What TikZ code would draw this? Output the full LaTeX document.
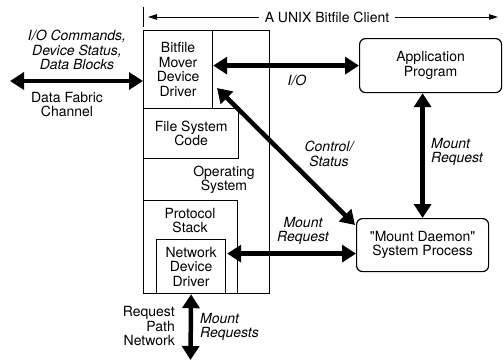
\documentclass[tikz,border=0pt]{standalone}
\usepackage{fontspec}
\setmainfont{TeX Gyre Heros}
\usetikzlibrary{arrows.meta,calc}
\begin{document}
\begin{tikzpicture}[x=1pt,y=-1pt,
  box/.style={draw, line width=1.2pt, inner sep=0pt, align=center},
  rbox/.style={box, rounded corners=6pt},
  lbl/.style={font=\fontsize{14}{14.5}\selectfont, align=center, inner sep=0pt},
  ilbl/.style={font=\fontsize{14}{14.5}\selectfont\itshape, align=center, inner sep=0pt},
  big/.style={line width=4.5pt, {Triangle[length=14pt,width=17pt]}-{Triangle[length=14pt,width=17pt]}},
  thinarrow/.style={line width=1pt, -{Triangle[length=9pt,width=5.5pt]}}
]
\useasboundingbox (0,0) rectangle (504,362);

% boxes
\node[box, minimum width=126pt, minimum height=263pt, anchor=north west] (os) at (143,30) {};
\node[box, lbl, minimum width=69pt, minimum height=78pt, anchor=north west] (bmd) at (143,30) {Bitfile\\Mover\\Device\\Driver};
\node[box, lbl, minimum width=95pt, minimum height=50pt, anchor=north west] (fsc) at (143,108) {File System\\Code};
\node[lbl] (ostxt) at (224,180) {Operating\\System};
\node[box, minimum width=94pt, minimum height=93pt, anchor=north west] (ps) at (143,200) {};
\node[lbl] (pstxt) at (190,220.5) {Protocol\\Stack};
\node[box, lbl, minimum width=69pt, minimum height=54pt, anchor=north west] (ndd) at (156,239) {Network\\Device\\Driver};
\node[rbox, lbl, minimum width=142pt, minimum height=54pt, anchor=north west] (app) at (359,38) {Application\\Program};
\node[rbox, lbl, minimum width=132pt, minimum height=53pt, anchor=north west] (md) at (356,218) {\textquotedbl Mount Daemon\textquotedbl\\System Process};

% header
\node[lbl, inner xsep=6pt] (title) at (327,17) {A UNIX Bitfile Client};
\coordinate (hl) at (148,17);
\coordinate (hr) at (498,17);
\coordinate (tk1) at (143,7);
\coordinate (tk2) at (143,27);
\draw[line width=1pt] (tk1) -- (tk2);
\draw[thinarrow] (title.west) -- (hl);
\draw[thinarrow] (title.east) -- (hr);

% connectors
\draw[big] (bmd.east |- app.west) -- (app.west);
\coordinate (dfc) at (10,81);
\draw[big] (dfc) -- (os.west |- dfc);
\coordinate (cs) at (217,88);
\coordinate (csend) at ($(md.north west)+(-1,7)$);
\draw[big] (cs) -- (csend);
\draw[big] (md.north) -- (md.north |- app.south);
\coordinate (mr1) at ($(ndd.east)+(1,-13)$);
\draw[big] (mr1) -- (md.west |- mr1);
\coordinate (rpn) at (190.5,360);
\draw[big] (ndd.south) -- (rpn);

% labels
\node[ilbl] (iocmd) at (77,50) {I/O Commands,\\Device Status,\\Data Blocks};
\node[lbl] (dfclbl) at (67,104.5) {Data Fabric\\Channel};
\node[ilbl] (iolbl) at (297,80) {I/O};
\node[ilbl] (cslbl) at (329,154) {Control/\\Status};
\node[ilbl, align=left, anchor=west] (mrv) at (431,152) {Mount\\Request};
\node[ilbl] (mrh) at (303,231) {Mount\\Request};
\node[lbl, align=right, anchor=east] (rpnlbl) at (175,326) {Request\\Path\\Network};
\node[ilbl, align=left, anchor=west] (mrs) at (200,327) {Mount\\Requests};
\end{tikzpicture}
\end{document}
